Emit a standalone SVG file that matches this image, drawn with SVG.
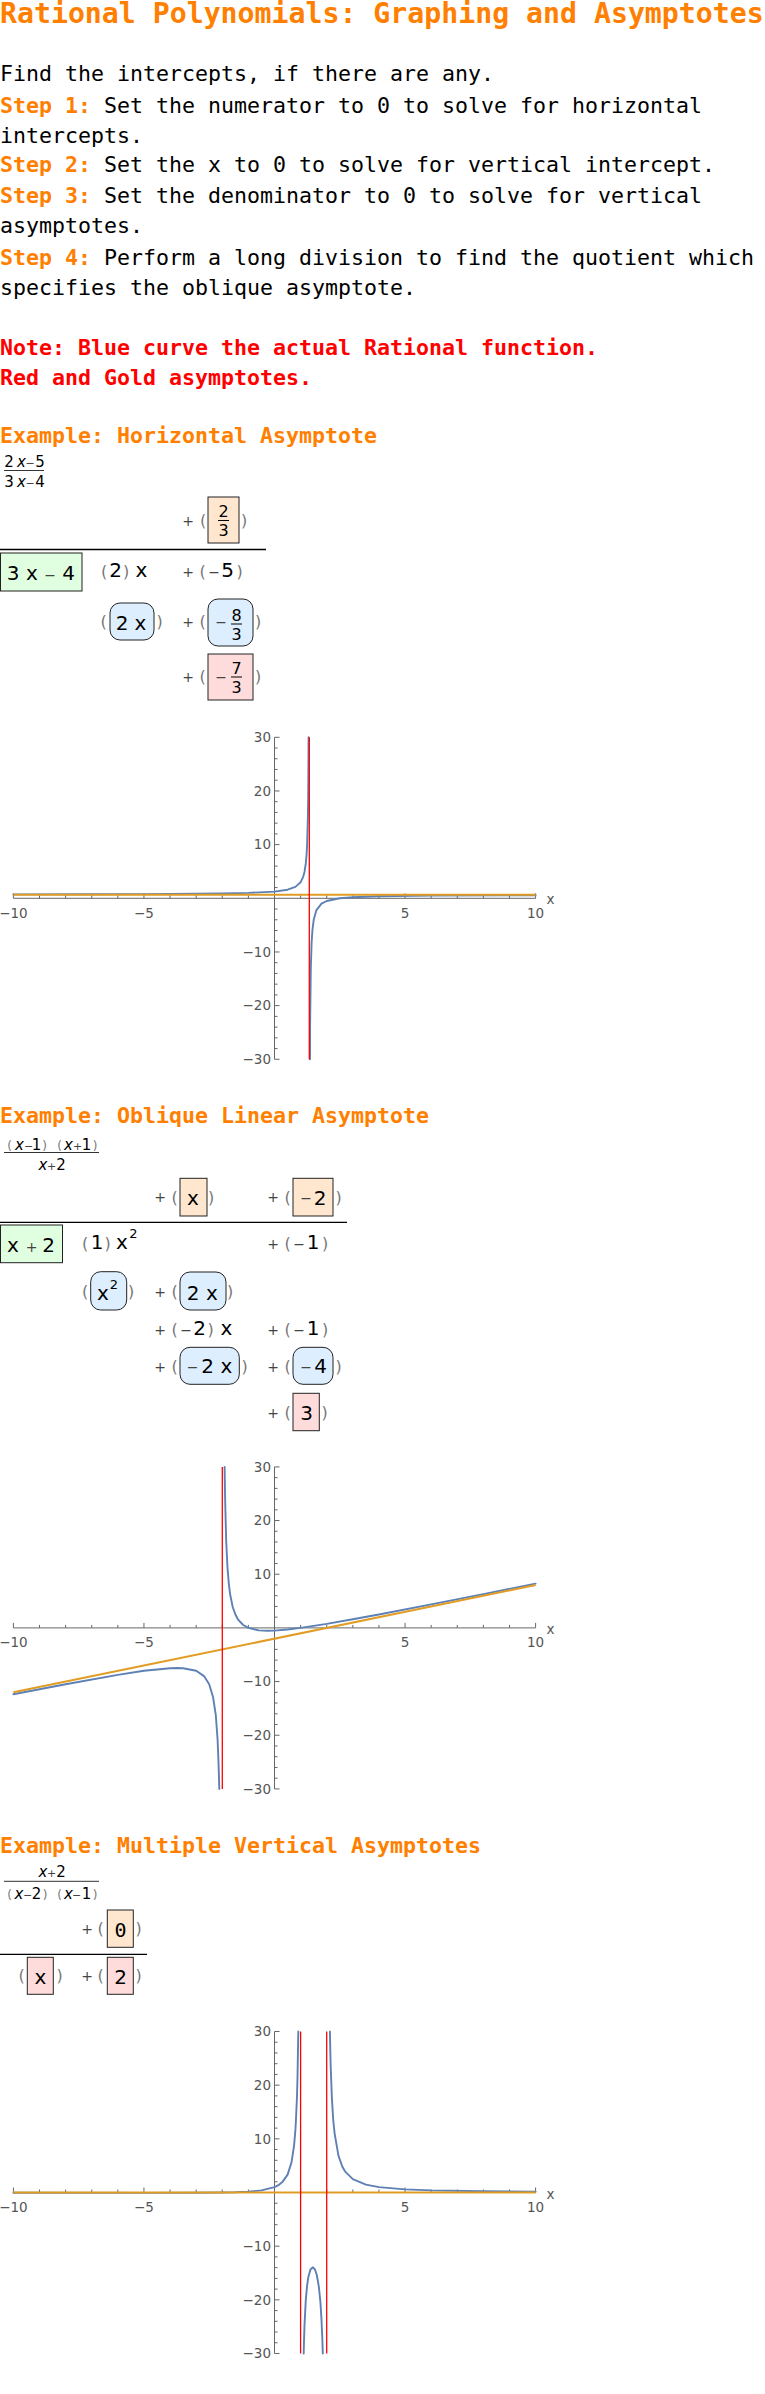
<svg xmlns="http://www.w3.org/2000/svg" xmlns:xlink="http://www.w3.org/1999/xlink" width="765" height="2394" viewBox="0 0 765 2394">
<style>
.ti{font:bold 28.2px "DejaVu Sans Mono",monospace;fill:#FF8000}
.bd{font:21.6px "DejaVu Sans Mono",monospace;fill:#000}
.st{font-weight:bold;fill:#FF8000}
.nt{font:bold 21.6px "DejaVu Sans Mono",monospace;fill:#FF0000}
.hd{font:bold 21.6px "DejaVu Sans Mono",monospace;fill:#FF8000}
.m{font:20px "DejaVu Sans",sans-serif;fill:#000;text-anchor:middle}
.mz{font:20px "DejaVu Sans Mono",monospace;fill:#000;text-anchor:middle}
.o{font:14px "DejaVu Sans",sans-serif;fill:#444;text-anchor:middle}
.p{font:16px "DejaVu Sans",sans-serif;fill:#777;text-anchor:middle}
.f{font:15px "DejaVu Sans",sans-serif;fill:#000;text-anchor:middle}
.fi{font-style:italic}
.fo{font:11px "DejaVu Sans",sans-serif;fill:#444;text-anchor:middle}
.fp{font:12px "DejaVu Sans",sans-serif;fill:#777;text-anchor:middle}
.q{font:16px "DejaVu Sans",sans-serif;fill:#000;text-anchor:middle}
.su{font:13px "DejaVu Sans",sans-serif;fill:#000;text-anchor:middle}
.bar{stroke:#333;stroke-width:1}
.qbar{stroke:#000;stroke-width:1}
.div{stroke:#000;stroke-width:1.3}
.bx{stroke:#222;stroke-width:1}
.bp{fill:#FFE7CF}
.bb{fill:#DDEEFF}
.bk{fill:#FFDCDC}
.bg{fill:#E0FFE0}
.ax{stroke:#666;stroke-width:1;fill:none}
.tx,.ty{font-family:"DejaVu Sans",sans-serif;font-size:13.5px;fill:#555}
.tx{text-anchor:middle}
.ty{text-anchor:end}
.cv{fill:none;stroke:#5E81B5;stroke-width:1.9;stroke-linejoin:round;stroke-linecap:round}
.as{fill:none;stroke:#E19C24;stroke-width:2}
.va{fill:none;stroke:#FF0000;stroke-width:1.3}
</style>
<defs>
<path id="ticks" d="M-261.1,0v-5M-234.99,0v-3M-208.88,0v-3M-182.77,0v-3M-156.66,0v-3M-130.55,0v-5M-104.44,0v-3M-78.33,0v-3M-52.22,0v-3M-26.11,0v-3M26.11,0v-3M52.22,0v-3M78.33,0v-3M104.44,0v-3M130.55,0v-5M156.66,0v-3M182.77,0v-3M208.88,0v-3M234.99,0v-3M261.1,0v-5M0,-10.73h3M0,-21.47h3M0,-32.2h3M0,-42.94h3M0,-53.67h5M0,-64.4h3M0,-75.14h3M0,-85.87h3M0,-96.61h3M0,-107.34h5M0,-118.07h3M0,-128.81h3M0,-139.54h3M0,-150.28h3M0,-161.01h5M0,10.73h3M0,21.47h3M0,32.2h3M0,42.94h3M0,53.67h5M0,64.4h3M0,75.14h3M0,85.87h3M0,96.61h3M0,107.34h5M0,118.07h3M0,128.81h3M0,139.54h3M0,150.28h3M0,161.01h5M-261.1,0H261.1M0,-161.01V161.01"/>
</defs>

<g id="intro">
<text class="ti" x="0" y="23">Rational Polynomials: Graphing and Asymptotes</text>
<text class="bd" x="0" y="81">Find the intercepts, if there are any.</text>
<text class="bd" x="0" y="113"><tspan class="st">Step 1:</tspan> Set the numerator to 0 to solve for horizontal</text>
<text class="bd" x="0" y="143">intercepts.</text>
<text class="bd" x="0" y="172"><tspan class="st">Step 2:</tspan> Set the x to 0 to solve for vertical intercept.</text>
<text class="bd" x="0" y="203"><tspan class="st">Step 3:</tspan> Set the denominator to 0 to solve for vertical</text>
<text class="bd" x="0" y="233">asymptotes.</text>
<text class="bd" x="0" y="265"><tspan class="st">Step 4:</tspan> Perform a long division to find the quotient which</text>
<text class="bd" x="0" y="295">specifies the oblique asymptote.</text>
<text class="nt" x="0" y="355">Note: Blue curve the actual Rational function.</text>
<text class="nt" x="0" y="385">Red and Gold asymptotes.</text>
</g>

<!-- Example 1 -->
<g id="ex1-heading">
<text class="hd" x="0" y="443">Example: Horizontal Asymptote</text>
<text class="f" x="9" y="467">2</text><text class="f fi" x="21.5" y="467">x</text><text class="fo" x="30" y="467">−</text><text class="f" x="40" y="467">5</text>
<line class="bar" x1="4" y1="470.5" x2="44" y2="470.5"/>
<text class="f" x="9" y="487">3</text><text class="f fi" x="21.5" y="487">x</text><text class="fo" x="30" y="487">−</text><text class="f" x="40" y="487">4</text>
</g>
<g id="ex1-division">
<text class="o" x="188" y="525.5">+</text><text class="p" x="203" y="526">(</text>
<rect class="bx bp" x="208" y="497" width="31" height="46"/>
<text class="q" x="223.5" y="517.3">2</text><line class="qbar" x1="218" y1="520.5" x2="229" y2="520.5"/><text class="q" x="223.5" y="536">3</text>
<text class="p" x="244" y="526">)</text>
<line class="div" x1="0" y1="549.5" x2="266" y2="549.5"/>
<rect class="bx bg" x="0.5" y="553" width="81.5" height="38"/>
<text class="m" x="13" y="580">3</text><text class="m" x="32" y="580">x</text><text class="o" x="50" y="580">−</text><text class="m" x="68.5" y="580">4</text>
<text class="p" x="104" y="577">(</text><text class="m" x="115.5" y="577">2</text><text class="p" x="126" y="577">)</text><text class="m" x="141.5" y="577">x</text>
<text class="o" x="188" y="577">+</text><text class="p" x="202.5" y="577">(</text><text class="o" x="214" y="577">−</text><text class="m" x="227.5" y="577">5</text><text class="p" x="239.5" y="577">)</text>
<text class="p" x="103.5" y="627">(</text>
<rect class="bx bb" x="110" y="603" width="44" height="37" rx="10"/>
<text class="m" x="122" y="630">2</text><text class="m" x="140.5" y="630">x</text>
<text class="p" x="159.5" y="627">)</text>
<text class="o" x="188" y="627">+</text><text class="p" x="202.5" y="627">(</text>
<rect class="bx bb" x="208" y="599" width="45" height="47" rx="10"/>
<text class="o" x="221" y="627">−</text><text class="q" x="236.5" y="621">8</text><line class="qbar" x1="231" y1="624" x2="242" y2="624"/><text class="q" x="236.5" y="639.5">3</text>
<text class="p" x="258" y="627">)</text>
<text class="o" x="188" y="682">+</text><text class="p" x="202.5" y="682">(</text>
<rect class="bx bk" x="208" y="654" width="45" height="46"/>
<text class="o" x="221" y="682">−</text><text class="q" x="236.5" y="674">7</text><line class="qbar" x1="231" y1="677" x2="242" y2="677"/><text class="q" x="236.5" y="693">3</text>
<text class="p" x="258" y="682">)</text>
</g>
<g id="plot1">
<use xlink:href="#ticks" href="#ticks" x="274.5" y="898.3" class="ax"/>
<g transform="translate(274.5,898.3)">
<text class="tx" x="-261.1" y="19.5">−10</text><text class="tx" x="-130.55" y="19.5">−5</text><text class="tx" x="130.55" y="19.5">5</text><text class="tx" x="261.1" y="19.5">10</text>
<text class="tx" x="276" y="6">x</text>
<text class="ty" x="-3.5" y="-156.3">30</text><text class="ty" x="-3.5" y="-102.6">20</text><text class="ty" x="-3.5" y="-49">10</text><text class="ty" x="-3.5" y="58.4">−10</text><text class="ty" x="-3.5" y="112">−20</text><text class="ty" x="-3.5" y="165.7">−30</text>
</g>
<polyline class="cv" points="13.4,894.4 91.7,894.2 144.0,894.1 222.3,893.5 248.4,892.9 274.5,891.6 287.6,889.7 295.4,886.9 300.6,882.2 303.2,876.8 304.5,872.0 305.8,863.4 306.6,854.3 307.1,844.6 307.9,816.4 308.2,798.5 308.4,769.5 308.6,737.3"/>
<polyline class="cv" points="310.0,1059.3 310.1,1026.6 310.3,1008.6 310.8,968.4 311.6,942.9 312.4,930.5 313.7,919.8 316.3,910.4 321.5,903.7 326.7,901.0 339.8,898.3 352.8,897.2 378.9,896.3 431.2,895.6 535.6,895.2"/>
<line class="as" x1="13.4" y1="894.7" x2="535.6" y2="894.7"/>
<line class="va" x1="309.3" y1="737.3" x2="309.3" y2="1059.3"/>
</g>

<!-- Example 2 -->
<g id="ex2-heading">
<text class="hd" x="0" y="1123.3">Example: Oblique Linear Asymptote</text>
<text class="fp" x="9.5" y="1149.5">(</text><text class="f fi" x="19.5" y="1149.5">x</text><text class="fo" x="28.5" y="1149.5">−</text><text class="f" x="36.5" y="1149.5">1</text><text class="fp" x="44.5" y="1149.5">)</text>
<text class="fp" x="59.5" y="1149.5">(</text><text class="f fi" x="68.5" y="1149.5">x</text><text class="fo" x="77.5" y="1149.5">+</text><text class="f" x="86.5" y="1149.5">1</text><text class="fp" x="95" y="1149.5">)</text>
<line class="bar" x1="4" y1="1152.5" x2="99" y2="1152.5"/>
<text class="f fi" x="43" y="1169.5">x</text><text class="fo" x="51.5" y="1169.5">+</text><text class="f" x="61" y="1169.5">2</text>
</g>
<g id="ex2-division">
<text class="o" x="160" y="1202">+</text><text class="p" x="174.5" y="1202.5">(</text>
<rect class="bx bp" x="180" y="1178.3" width="27" height="37.7"/>
<text class="m" x="193" y="1205">x</text>
<text class="p" x="211" y="1202.5">)</text>
<text class="o" x="273" y="1202">+</text><text class="p" x="287.5" y="1202.5">(</text>
<rect class="bx bp" x="293" y="1178.3" width="40" height="37.7"/>
<text class="o" x="306" y="1203">−</text><text class="m" x="320" y="1205">2</text>
<text class="p" x="338.5" y="1202.5">)</text>
<line class="div" x1="0" y1="1222.3" x2="347" y2="1222.3"/>
<rect class="bx bg" x="0.5" y="1225" width="62" height="37.7"/>
<text class="m" x="13" y="1251.7">x</text><text class="o" x="31.5" y="1251.7">+</text><text class="m" x="48.5" y="1251.7">2</text>
<text class="p" x="85" y="1249.3">(</text><text class="m" x="97" y="1249.3">1</text><text class="p" x="107.5" y="1249.3">)</text><text class="m" x="122" y="1249.3">x</text><text class="su" x="133.5" y="1238">2</text>
<text class="o" x="273" y="1249">+</text><text class="p" x="287.5" y="1249">(</text><text class="o" x="299" y="1249">−</text><text class="m" x="313" y="1249.3">1</text><text class="p" x="325" y="1249">)</text>
<text class="p" x="85" y="1296.5">(</text>
<rect class="bx bb" x="90.7" y="1271.7" width="36" height="38.3" rx="10"/>
<text class="m" x="103" y="1299.5">x</text><text class="su" x="114" y="1288.5">2</text>
<text class="p" x="131" y="1296.5">)</text>
<text class="o" x="160" y="1296.5">+</text><text class="p" x="174.5" y="1296.5">(</text>
<rect class="bx bb" x="180" y="1272" width="46" height="38" rx="10"/>
<text class="m" x="193" y="1299.5">2</text><text class="m" x="212" y="1299.5">x</text>
<text class="p" x="230" y="1296.5">)</text>
<text class="o" x="160" y="1335">+</text><text class="p" x="174.5" y="1335">(</text><text class="o" x="186" y="1335">−</text><text class="m" x="199.5" y="1335">2</text><text class="p" x="210.5" y="1335">)</text><text class="m" x="226.5" y="1335">x</text>
<text class="o" x="273" y="1335">+</text><text class="p" x="287.5" y="1335">(</text><text class="o" x="299" y="1335">−</text><text class="m" x="313" y="1335">1</text><text class="p" x="325" y="1335">)</text>
<text class="o" x="160" y="1371.5">+</text><text class="p" x="174.5" y="1371.5">(</text>
<rect class="bx bb" x="180" y="1347.3" width="59.3" height="37" rx="10"/>
<text class="o" x="192.5" y="1372">−</text><text class="m" x="207.5" y="1373">2</text><text class="m" x="226.5" y="1373">x</text>
<text class="p" x="244.5" y="1371.5">)</text>
<text class="o" x="273" y="1371.5">+</text><text class="p" x="287.5" y="1371.5">(</text>
<rect class="bx bb" x="293" y="1347.3" width="40" height="37" rx="10"/>
<text class="o" x="306" y="1372">−</text><text class="m" x="320.5" y="1373">4</text>
<text class="p" x="338.5" y="1371.5">)</text>
<text class="o" x="273" y="1417.5">+</text><text class="p" x="287.5" y="1417.5">(</text>
<rect class="bx bk" x="293" y="1393.3" width="26.3" height="37.4"/>
<text class="m" x="306.5" y="1420">3</text>
<text class="p" x="324.5" y="1417.5">)</text>
</g>
<g id="plot2">
<use xlink:href="#ticks" href="#ticks" x="274.5" y="1627.9" class="ax"/>
<g transform="translate(274.5,1627.9)">
<text class="tx" x="-261.1" y="19.5">−10</text><text class="tx" x="-130.55" y="19.5">−5</text><text class="tx" x="130.55" y="19.5">5</text><text class="tx" x="261.1" y="19.5">10</text>
<text class="tx" x="276" y="6">x</text>
<text class="ty" x="-3.5" y="-156.3">30</text><text class="ty" x="-3.5" y="-102.6">20</text><text class="ty" x="-3.5" y="-49">10</text><text class="ty" x="-3.5" y="58.4">−10</text><text class="ty" x="-3.5" y="112">−20</text><text class="ty" x="-3.5" y="165.7">−30</text>
</g>
<polyline class="cv" points="13.4,1694.3 65.6,1684.3 117.8,1674.9 144.0,1670.8 170.1,1668.2 177.1,1668.0 183.1,1668.2 196.2,1670.8 204.0,1676.1 209.2,1684.3 213.1,1697.3 215.8,1715.1 217.6,1739.8 218.6,1765.1 219.3,1788.9"/>
<polyline class="cv" points="224.6,1466.9 225.2,1502.4 226.2,1541.2 227.5,1567.8 228.8,1583.6 230.1,1594.1 232.7,1607.0 235.4,1614.5 237.9,1619.3 243.2,1625.0 248.4,1627.9 258.8,1630.4 267.5,1630.8 274.5,1630.6 287.6,1629.5 300.6,1627.9 326.7,1623.9 352.8,1619.3 378.9,1614.5 431.2,1604.4 483.4,1594.1 535.6,1583.6"/>
<line class="as" x1="13.4" y1="1692.3" x2="535.6" y2="1585.0"/>
<line class="va" x1="222.3" y1="1466.9" x2="222.3" y2="1788.9"/>
</g>

<!-- Example 3 -->
<g id="ex3-heading">
<text class="hd" x="0" y="1853.3">Example: Multiple Vertical Asymptotes</text>
<text class="f fi" x="43" y="1877.3">x</text><text class="fo" x="51.5" y="1877.3">+</text><text class="f" x="61" y="1877.3">2</text>
<line class="bar" x1="4" y1="1881.3" x2="99" y2="1881.3"/>
<text class="fp" x="9.5" y="1899.3">(</text><text class="f fi" x="19" y="1899.3">x</text><text class="fo" x="27.5" y="1899.3">−</text><text class="f" x="36.5" y="1899.3">2</text><text class="fp" x="45" y="1899.3">)</text>
<text class="fp" x="59.5" y="1899.3">(</text><text class="f fi" x="68.5" y="1899.3">x</text><text class="fo" x="76.5" y="1899.3">−</text><text class="f" x="86.5" y="1899.3">1</text><text class="fp" x="95" y="1899.3">)</text>
</g>
<g id="ex3-division">
<text class="o" x="87" y="1934">+</text><text class="p" x="100.5" y="1934">(</text>
<rect class="bx bp" x="107.3" y="1910" width="26" height="37.3"/>
<text class="mz" x="120.5" y="1937.3">0</text>
<text class="p" x="138.5" y="1934">)</text>
<line class="div" x1="0" y1="1954.3" x2="147" y2="1954.3"/>
<text class="p" x="21.5" y="1980.5">(</text>
<rect class="bx bk" x="27.3" y="1957.3" width="26" height="37"/>
<text class="m" x="40.5" y="1984.3">x</text>
<text class="p" x="59.5" y="1980.5">)</text>
<text class="o" x="87" y="1980.5">+</text><text class="p" x="100.5" y="1980.5">(</text>
<rect class="bx bk" x="107.3" y="1957.3" width="26" height="37"/>
<text class="m" x="120.5" y="1984.3">2</text>
<text class="p" x="138.5" y="1980.5">)</text>
</g>
<g id="plot3">
<use xlink:href="#ticks" href="#ticks" x="274.5" y="2192.5" class="ax"/>
<g transform="translate(274.5,2192.5)">
<text class="tx" x="-261.1" y="19.5">−10</text><text class="tx" x="-130.55" y="19.5">−5</text><text class="tx" x="130.55" y="19.5">5</text><text class="tx" x="261.1" y="19.5">10</text>
<text class="tx" x="276" y="6">x</text>
<text class="ty" x="-3.5" y="-156.3">30</text><text class="ty" x="-3.5" y="-102.6">20</text><text class="ty" x="-3.5" y="-49">10</text><text class="ty" x="-3.5" y="58.4">−10</text><text class="ty" x="-3.5" y="112">−20</text><text class="ty" x="-3.5" y="165.7">−30</text>
</g>
<polyline class="cv" points="13.4,2192.8 144.0,2192.9 196.2,2192.8 222.3,2192.5 235.3,2192.2 248.4,2191.6 261.4,2190.4 274.5,2187.1 278.4,2185.2 282.3,2182.1 287.6,2174.6 291.5,2162.4 294.1,2145.3 295.4,2129.9 295.9,2121.2 297.0,2096.3 297.5,2077.5 297.7,2065.5 298.3,2031.5"/>
<polyline class="cv" points="303.7,2353.5 304.0,2341.0 304.5,2325.1 305.8,2299.8 307.1,2285.5 308.4,2276.8 310.5,2269.5 312.7,2267.3 315.0,2269.5 316.8,2275.0 318.9,2287.1 320.5,2303.1 321.5,2320.0 322.3,2338.2 322.8,2353.5"/>
<polyline class="cv" points="329.9,2031.5 330.6,2063.4 331.9,2098.6 333.2,2119.5 334.6,2133.3 338.5,2155.9 342.4,2166.8 345.0,2171.3 352.8,2179.1 365.9,2184.6 378.9,2187.1 405.1,2189.4 431.2,2190.4 483.4,2191.2 535.6,2191.6"/>
<line class="as" x1="13.4" y1="2192.5" x2="535.6" y2="2192.5"/>
<line class="va" x1="300.6" y1="2031.5" x2="300.6" y2="2353.5"/>
<line class="va" x1="326.7" y1="2031.5" x2="326.7" y2="2353.5"/>
</g>
</svg>
